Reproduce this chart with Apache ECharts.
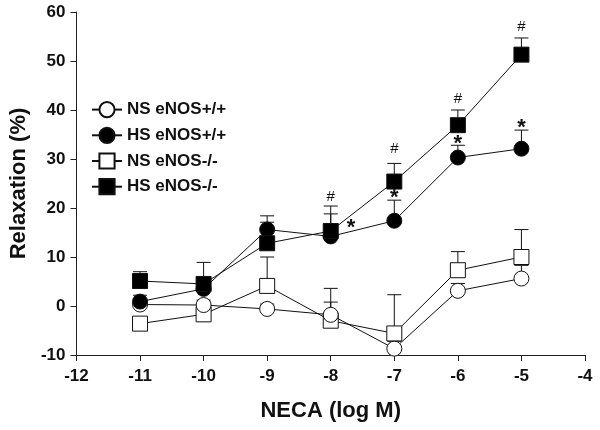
<!DOCTYPE html>
<html>
<head>
<meta charset="utf-8">
<script src="https://cdn.jsdelivr.net/npm/echarts@6/dist/echarts.min.js"></script>
<style>
html,body{margin:0;padding:0;background:#fff;}
#chart{width:600px;height:430px;}
</style>
</head>
<body>
<div id="chart"></div>
<script>
// ---- data ----
const xValues = [-11, -10, -9, -8, -7, -6, -5];
const xTicks = [-12, -11, -10, -9, -8, -7, -6, -5, -4];
const yTicks = [-10, 0, 10, 20, 30, 40, 50, 60];

const nsWT = [0.3, 0.2, -0.6, -1.8, -8.7, 3.1, 5.6];      // NS eNOS+/+
const nsWTErr = [1, 1, 1, 5.4, 1.5, 1.5, 2.7];
const hsWT = [0.9, 3.5, 15.6, 14.2, 17.4, 30.3, 32.1];    // HS eNOS+/+
const hsWTErr = [1.3, 1, 2.8, 4.6, 4.2, 2.5, 3.8];
const nsKO = [-3.6, -1.7, 4.1, -3.0, -5.6, 7.3, 10.0];    // NS eNOS-/-
const nsKOErr = [1, 1, 5.9, 3.8, 7.9, 3.8, 5.6];
const hsKO = [5.1, 4.5, 12.8, 15.3, 25.4, 36.9, 51.3];    // HS eNOS-/-
const hsKOErr = [1.9, 4.4, 4.3, 5.1, 3.7, 3.1, 3.4];

const hashX = [-8, -7, -6, -5];
const hashY = [22.3, 32.0, 42.3, 57.0];
const starX = [-7.68, -7, -6, -5];
const starY = [16.9, 23.0, 34.0, 37.3];

const seriesNames = ['NS eNOS+/+', 'HS eNOS+/+', 'NS eNOS-/-', 'HS eNOS-/-'];

// ---- chart ----
const FONT = '"Liberation Sans", Arial, Helvetica, sans-serif';
const chart = echarts.init(document.getElementById('chart'), null, {renderer: 'canvas'});

function pairs(xs, ys) { return xs.map((x, i) => [x, ys[i]]); }
function errData(xs, ys, es) { return xs.map((x, i) => [x, ys[i], es[i]]); }

function errSeries(ys, es, z) {
  return {
    type: 'custom',
    silent: true,
    z: z,
    data: errData(xValues, ys, es),
    renderItem: function (params, api) {
      const p0 = api.coord([api.value(0), api.value(1)]);
      const p1 = api.coord([api.value(0), api.value(1) + api.value(2)]);
      const hw = 7;
      return {
        type: 'group',
        children: [
          {type: 'line', shape: {x1: p0[0], y1: p0[1], x2: p1[0], y2: p1[1]}, style: {stroke: '#111', lineWidth: 1}},
          {type: 'line', shape: {x1: p1[0] - hw, y1: p1[1], x2: p1[0] + hw, y2: p1[1]}, style: {stroke: '#111', lineWidth: 1}}
        ]
      };
    }
  };
}

function lineSeries(name, ys, symbol, fill, z) {
  return {
    name: name,
    type: 'line',
    z: z,
    data: pairs(xValues, ys),
    symbol: symbol,
    symbolSize: 15,
    showAllSymbol: true,
    lineStyle: {color: '#111', width: 1},
    itemStyle: {color: fill, borderColor: '#111', borderWidth: 1},
    emphasis: {disabled: true},
    animation: false
  };
}

function textSeries(xs, ys, txt, font, dy) {
  return {
    type: 'custom',
    silent: true,
    z: 10,
    data: pairs(xs, ys),
    renderItem: function (params, api) {
      const p = api.coord([api.value(0), api.value(1)]);
      return {
        type: 'text',
        x: p[0], y: p[1] + dy,
        style: {text: txt, font: font, fill: '#111', align: 'center', verticalAlign: 'middle'}
      };
    }
  };
}

const option = {
  animation: false,
  backgroundColor: '#fff',
  grid: {left: 71, top: 12, width: 514, height: 343, containLabel: false},
  legend: {
    data: seriesNames,
    orient: 'vertical',
    left: 86,
    top: 96,
    padding: 5,
    itemWidth: 30,
    itemHeight: 19,
    itemGap: 8.5,
    selectedMode: false,
    textStyle: {fontFamily: FONT, fontWeight: 'bold', fontSize: 17, color: '#111'}
  },
  xAxis: {
    type: 'value',
    min: xTicks[0],
    max: xTicks[xTicks.length - 1],
    interval: 1,
    name: 'NECA (log M)',
    nameLocation: 'middle',
    nameGap: 45,
    nameTextStyle: {fontFamily: FONT, fontWeight: 'bold', fontSize: 22, color: '#111'},
    axisLine: {onZero: false, lineStyle: {color: '#222', width: 1}},
    axisTick: {show: true, length: 6, inside: false, lineStyle: {color: '#222'}},
    axisLabel: {fontFamily: FONT, fontWeight: 'bold', fontSize: 17, color: '#111', margin: 13},
    splitLine: {show: false}
  },
  yAxis: {
    type: 'value',
    min: yTicks[0],
    max: yTicks[yTicks.length - 1],
    interval: 10,
    name: 'Relaxation (%)',
    nameLocation: 'middle',
    nameGap: 38,
    nameTextStyle: {fontFamily: FONT, fontWeight: 'bold', fontSize: 22, color: '#111'},
    axisLine: {show: true, onZero: false, lineStyle: {color: '#222', width: 1}},
    axisTick: {show: true, length: 6, inside: false, lineStyle: {color: '#222'}},
    axisLabel: {fontFamily: FONT, fontWeight: 'bold', fontSize: 17, color: '#111', margin: 11},
    splitLine: {show: false}
  },
  series: [
    errSeries(nsKO, nsKOErr, 1),
    errSeries(nsWT, nsWTErr, 1),
    errSeries(hsWT, hsWTErr, 1),
    errSeries(hsKO, hsKOErr, 1),
    lineSeries(seriesNames[2], nsKO, 'rect', '#fff', 3),
    lineSeries(seriesNames[0], nsWT, 'circle', '#fff', 4),
    lineSeries(seriesNames[1], hsWT, 'circle', '#000', 5),
    lineSeries(seriesNames[3], hsKO, 'rect', '#000', 6),
    textSeries(hashX, hashY, '#', '15px ' + FONT, 0),
    textSeries(starX, starY, '*', 'bold 22px ' + FONT, 5)
  ]
};
chart.setOption(option);
</script>
</body>
</html>
